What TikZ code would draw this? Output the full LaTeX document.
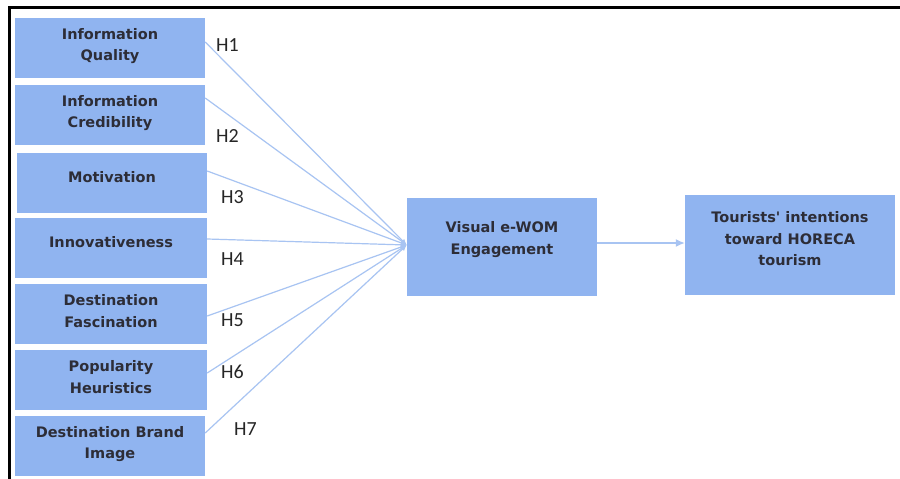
\documentclass[tikz,border=0pt]{standalone}
\usepackage{fontspec}
\setmainfont{DejaVu Sans}[Ligatures=TeXOff]
\newfontfamily\hfont{Carlito}
\usetikzlibrary{arrows.meta}
\definecolor{boxblue}{RGB}{144,180,240}
\definecolor{lineblue}{RGB}{168,196,242}
\definecolor{txtgray}{RGB}{45,45,55}
\tikzset{
  box/.style={draw=none, fill=boxblue, rectangle, inner sep=0pt},
  lbl/.style={align=center, font=\fontsize{14.5}{21.5}\selectfont\bfseries, text=txtgray, inner sep=0pt},
  hyp/.style={font=\hfont\fontsize{20}{20}\selectfont, text=black!85, anchor=west, inner sep=0pt},
  fan/.style={draw=lineblue, line width=1.2pt, -{Latex[length=6pt,width=5pt]}},
  main/.style={draw=lineblue, line width=1.4pt, -{Latex[length=9pt,width=8pt]}}
}
\begin{document}
\begin{tikzpicture}[x=1pt,y=-1pt]
\useasboundingbox (0,0) rectangle (900,479);
\fill[white] (0,0) rectangle (900,479);
% frame
\draw[line width=3pt, black] (9,479) -- (9,7) -- (900,7);

% left boxes
\node[box, minimum width=190, minimum height=60] (q) at (110,48) {};
\node[box, minimum width=190, minimum height=60] (c) at (110,115) {};
\node[box, minimum width=190, minimum height=60] (m) at (112,183) {};
\node[box, minimum width=192, minimum height=60] (i) at (111,248) {};
\node[box, minimum width=192, minimum height=60] (f) at (111,314) {};
\node[box, minimum width=192, minimum height=60] (p) at (111,380) {};
\node[box, minimum width=190, minimum height=60] (b) at (110,446) {};

\node[lbl] (tq) at (110,46) {Information\\Quality};
\node[lbl] (tc) at (110,113) {Information\\Credibility};
\node[lbl] (tm) at (112,177) {Motivation};
\node[lbl] (ti) at (111,242) {Innovativeness};
\node[lbl] (tf) at (111,311) {Destination\\Fascination};
\node[lbl] (tp) at (111,377) {Popularity\\Heuristics};
\node[lbl] (tb) at (110,444) {Destination Brand\\Image};

% middle and right boxes
\node[box, minimum width=190, minimum height=98] (ve) at (502,247) {};
\node[lbl] (tve) at (502,239.5) {Visual e-WOM\\Engagement};
\node[box, minimum width=210, minimum height=100] (ti2) at (790,245) {};
\node[lbl] (tt) at (790,239) {Tourists' intentions\\toward HORECA\\tourism};

% connectors (canvas yshift: positive = up)
\coordinate (conv) at ([yshift=2]ve.west);
\draw[fan] ([yshift=6]q.east) -- (conv);
\draw[fan] ([yshift=17]c.east) -- (conv);
\draw[fan] ([yshift=12]m.east) -- (conv);
\draw[fan] ([yshift=9]i.east) -- (conv);
\draw[fan] ([yshift=-2]f.east) -- (conv);
\draw[fan] ([yshift=7]p.east) -- (conv);
\draw[fan] ([yshift=13]b.east) -- (conv);
\draw[main] ([yshift=4]ve.east) -- ([yshift=2]ti2.west);

% hypothesis labels
\node[hyp] (h1) at (216,45) {H1};
\node[hyp] (h2) at (216,136) {H2};
\node[hyp] (h3) at (221,197) {H3};
\node[hyp] (h4) at (221,259) {H4};
\node[hyp] (h5) at (221,320) {H5};
\node[hyp] (h6) at (221,372) {H6};
\node[hyp] (h7) at (234,429) {H7};
\end{tikzpicture}
\end{document}
